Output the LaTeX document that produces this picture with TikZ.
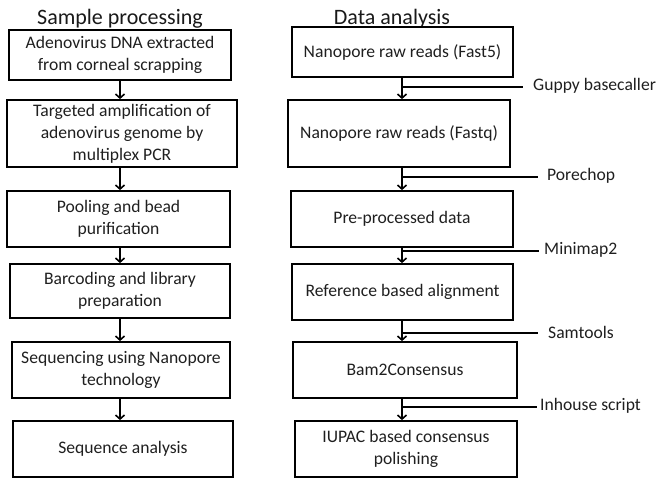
\documentclass[tikz,border=0pt]{standalone}
\usepackage{fontspec}
\setmainfont{Carlito}
\usetikzlibrary{arrows.meta}
\begin{document}
\begin{tikzpicture}[x=1pt,y=-1pt,
  box/.style={draw=black,line width=1.8pt,inner sep=0pt,align=center,font=\fontsize{17.6}{22}\selectfont,text=black!88},
  arr/.style={line width=1.8pt,-{Straight Barb[length=4pt,width=9pt,line width=1.6pt]}},
  tool/.style={line width=1.4pt},
  toollabel/.style={anchor=west,inner sep=0pt,font=\fontsize{17.6}{22}\selectfont,text=black!88},
  title/.style={anchor=base,inner sep=0pt,font=\fontsize{22}{26}\selectfont,text=black!90}]
\useasboundingbox (0,0) rectangle (661,478);
\node[title] (t1) at (120,25) {Sample processing};
\node[title] (t2) at (392,25) {Data analysis};
% left column
\node[box,minimum width=222pt,minimum height=50pt] (L1) at (120,55) {Adenovirus DNA extracted\\from corneal scrapping};
\node[box,minimum width=230pt,minimum height=67pt] (L2) at (122,133.5) {Targeted amplification of\\adenovirus genome by\\multiplex PCR};
\node[box,minimum width=223pt,minimum height=56pt] (L3) at (118.5,219) {Pooling and bead\\purification};
\node[box,minimum width=220pt,minimum height=54pt] (L4) at (120,291) {Barcoding and library\\preparation};
\node[box,minimum width=218pt,minimum height=56pt] (L5) at (121,370) {Sequencing using Nanopore\\technology};
\node[box,minimum width=220pt,minimum height=56pt] (L6) at (123,449) {Sequence analysis};
\coordinate (ax) at (120,0);
\draw[arr] (L1.south -| ax) -- (L2.north -| ax);
\draw[arr] (L2.south -| ax) -- (L3.north -| ax);
\draw[arr] (L3.south -| ax) -- (L4.north -| ax);
\draw[arr] (L4.south -| ax) -- (L5.north -| ax);
\draw[arr] (L5.south -| ax) -- (L6.north -| ax);
% right column
\node[box,minimum width=221pt,minimum height=50pt] (R1) at (402.5,52) {Nanopore raw reads (Fast5)};
\node[box,minimum width=222pt,minimum height=67pt] (R2) at (399,133.5) {Nanopore raw reads (Fastq)};
\node[box,minimum width=222pt,minimum height=56pt] (R3) at (402,219) {Pre-processed data};
\node[box,minimum width=221pt,minimum height=56pt] (R4) at (402.5,292) {Reference based alignment};
\node[box,minimum width=224pt,minimum height=56pt] (R5) at (405,370) {Bam2Consensus};
\node[box,minimum width=222pt,minimum height=56pt] (R6) at (406,449) {IUPAC based consensus\\polishing};
\coordinate (bx) at (402,0);
\draw[arr] (R1.south -| bx) -- (R2.north -| bx);
\draw[arr] (R2.south -| bx) -- (R3.north -| bx);
\draw[arr] (R3.south -| bx) -- (R4.north -| bx);
\draw[arr] (R4.south -| bx) -- (R5.north -| bx);
\draw[arr] (R5.south -| bx) -- (R6.north -| bx);
% tool labels
\node[toollabel] (g1) at (533,86) {Guppy basecaller};
\node[toollabel] (g2) at (547,176) {Porechop};
\node[toollabel] (g3) at (544,250) {Minimap2};
\node[toollabel] (g4) at (548,332) {Samtools};
\node[toollabel] (g5) at (540,406) {Inhouse script};
\coordinate (e1) at (523,87);
\coordinate (e2) at (538,177);
\coordinate (e3) at (539,251);
\coordinate (e4) at (538,333);
\coordinate (e5) at (537,407);
\draw[tool] (e1 -| bx) -- (e1);
\draw[tool] (e2 -| bx) -- (e2);
\draw[tool] (e3 -| bx) -- (e3);
\draw[tool] (e4 -| bx) -- (e4);
\draw[tool] (e5 -| bx) -- (e5);
\end{tikzpicture}
\end{document}
